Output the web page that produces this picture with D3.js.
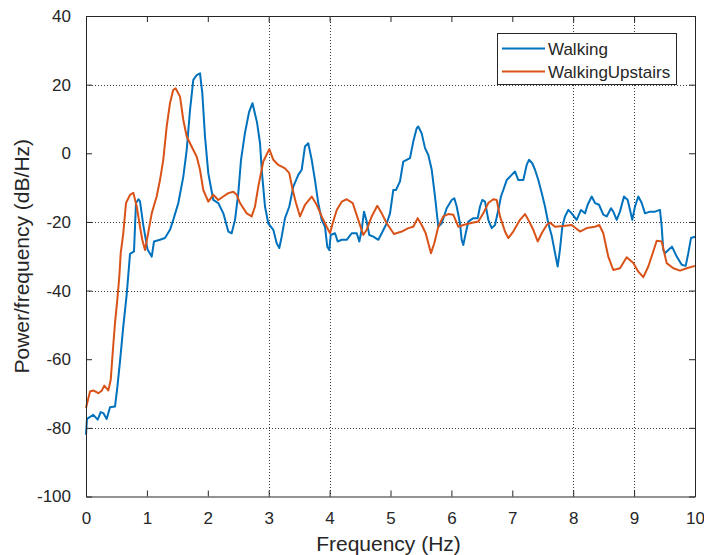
<!DOCTYPE html>
<html>
<head>
<meta charset="utf-8">
<script src="https://cdn.jsdelivr.net/npm/d3@7"></script>
<style>
  html, body { margin: 0; padding: 0; background: #fff; }
  svg { display: block; font-family: "Liberation Sans", Arial, sans-serif; }
</style>
</head>
<body>
<svg id="chart" width="704" height="555"></svg>
<script>
// Welch power spectral density estimates for two activities
const walkingFreq = [0.000,0.016,0.120,0.192,0.241,0.284,0.340,0.394,0.476,0.514,0.558,0.612,0.668,0.723,0.788,0.821,0.862,0.887,0.941,1.010,1.079,1.117,1.215,1.297,1.379,1.433,1.516,1.598,1.654,1.708,1.762,1.818,1.872,1.910,1.954,2.008,2.090,2.172,2.255,2.337,2.392,2.447,2.501,2.545,2.611,2.677,2.734,2.808,2.857,2.890,2.939,2.993,3.076,3.131,3.174,3.213,3.268,3.338,3.404,3.486,3.542,3.596,3.650,3.706,3.760,3.814,3.870,3.924,3.962,3.995,4.018,4.089,4.133,4.199,4.281,4.363,4.445,4.488,4.527,4.565,4.609,4.652,4.718,4.800,4.856,4.938,4.992,5.046,5.090,5.156,5.210,5.320,5.374,5.430,5.456,5.512,5.567,5.621,5.677,5.731,5.785,5.841,5.923,6.005,6.048,6.087,6.141,6.169,6.195,6.235,6.278,6.360,6.432,6.470,6.507,6.552,6.606,6.662,6.716,6.770,6.814,6.852,6.908,6.990,7.044,7.099,7.181,7.236,7.274,7.328,7.373,7.427,7.483,7.537,7.591,7.647,7.701,7.745,7.783,7.821,7.865,7.920,7.975,8.057,8.128,8.194,8.238,8.304,8.358,8.424,8.494,8.550,8.621,8.658,8.714,8.768,8.834,8.895,8.933,8.970,9.015,9.069,9.125,9.179,9.261,9.343,9.425,9.453,9.479,9.507,9.562,9.622,9.700,9.782,9.847,9.890,9.934,10.000];
const walkingPsd = [-82.0,-77.4,-76.2,-77.6,-75.4,-75.7,-77.4,-74.0,-73.8,-68.3,-60.7,-50.5,-41.2,-29.3,-28.6,-14.5,-13.4,-14.0,-21.0,-28.0,-30.1,-25.7,-25.2,-24.7,-22.3,-19.4,-14.5,-6.8,1.0,12.6,21.4,22.8,23.3,17.5,4.9,-5.8,-13.6,-14.5,-17.5,-22.8,-23.3,-19.4,-11.6,-2.0,6.0,12.0,14.6,9.0,3.0,-5.8,-15.5,-20.4,-22.3,-26.2,-27.6,-24.3,-18.9,-15.5,-9.7,-6.3,-4.8,2.0,2.9,-1.9,-7.8,-14.5,-19.4,-21.4,-27.2,-28.2,-23.8,-23.3,-25.7,-25.2,-25.2,-23.3,-23.3,-25.7,-22.3,-17.0,-19.9,-23.8,-24.3,-25.2,-23.3,-20.4,-17.5,-10.7,-10.7,-8.2,-2.4,-1.4,3.4,7.3,7.8,5.8,1.5,-0.5,-4.8,-12.6,-21.4,-20.4,-16.0,-13.6,-13.1,-15.5,-20.4,-25.2,-26.7,-23.3,-19.9,-18.9,-18.9,-15.5,-13.6,-14.1,-19.4,-21.8,-20.9,-16.5,-12.6,-10.7,-7.8,-6.3,-5.3,-7.8,-7.8,-3.4,-1.9,-2.9,-4.8,-7.8,-11.6,-15.5,-20.4,-24.0,-29.0,-33.0,-28.0,-21.4,-18.4,-16.5,-17.5,-19.4,-16.5,-17.5,-15.0,-12.6,-14.5,-15.0,-17.9,-18.4,-16.0,-17.0,-19.4,-17.0,-12.6,-13.6,-16.5,-19.4,-15.5,-12.6,-14.5,-17.5,-17.0,-17.0,-16.5,-21.4,-28.2,-29.1,-28.2,-27.2,-30.1,-32.5,-32.8,-29.1,-24.7,-24.3];

const upstairsFreq = [0.000,0.066,0.120,0.202,0.258,0.300,0.366,0.406,0.438,0.476,0.514,0.547,0.570,0.612,0.657,0.723,0.777,0.833,0.887,0.924,0.969,1.023,1.079,1.161,1.215,1.269,1.325,1.379,1.433,1.473,1.544,1.598,1.654,1.736,1.818,1.872,1.926,2.008,2.090,2.172,2.255,2.337,2.419,2.475,2.529,2.639,2.721,2.775,2.829,2.911,3.010,3.076,3.158,3.268,3.338,3.394,3.448,3.514,3.596,3.706,3.788,3.870,3.952,4.007,4.051,4.117,4.199,4.281,4.379,4.471,4.553,4.609,4.691,4.783,4.856,4.938,5.057,5.184,5.292,5.374,5.447,5.512,5.578,5.621,5.665,5.719,5.785,5.867,5.949,6.031,6.113,6.195,6.305,6.442,6.524,6.606,6.688,6.744,6.798,6.880,6.934,7.016,7.126,7.209,7.263,7.345,7.417,7.483,7.565,7.619,7.701,7.837,7.975,8.112,8.222,8.358,8.429,8.494,8.576,8.658,8.768,8.878,8.987,9.069,9.151,9.233,9.315,9.371,9.453,9.535,9.644,9.754,9.865,10.000];
const upstairsPsd = [-74.2,-69.4,-69.1,-69.9,-69.2,-67.7,-69.1,-66.0,-58.2,-49.5,-42.7,-35.9,-29.1,-23.3,-14.5,-12.1,-11.5,-15.5,-21.4,-25.2,-28.2,-23.0,-17.5,-12.5,-7.8,-1.9,7.8,14.6,18.5,18.9,16.5,9.7,4.9,1.9,-1.0,-4.8,-10.7,-14.1,-12.1,-13.6,-12.6,-11.6,-11.2,-12.1,-14.5,-17.5,-18.4,-15.5,-9.7,-2.4,1.2,-1.9,-3.4,-4.4,-5.8,-10.7,-14.5,-18.4,-15.0,-12.6,-15.0,-18.4,-21.4,-23.3,-20.4,-16.5,-14.1,-13.4,-14.5,-19.4,-23.8,-22.3,-18.4,-15.3,-17.5,-20.4,-23.5,-22.8,-21.8,-21.4,-18.9,-20.9,-23.3,-26.2,-29.1,-26.2,-21.4,-18.4,-17.7,-17.9,-21.4,-20.9,-20.4,-19.9,-17.5,-14.5,-13.4,-13.6,-18.4,-22.8,-24.7,-22.8,-19.4,-17.7,-19.4,-22.3,-25.7,-23.3,-20.9,-20.2,-21.4,-21.2,-20.9,-22.8,-21.8,-21.4,-20.9,-23.3,-30.1,-34.0,-33.5,-30.3,-32.0,-34.5,-36.1,-33.0,-28.6,-25.5,-25.7,-32.0,-33.5,-34.2,-33.5,-32.8];

const xTicks = [0,1,2,3,4,5,6,7,8,9,10];
const yTicks = [40,20,0,-20,-40,-60,-80,-100];
const xGrid = [3,4,8,9];
const yGrid = [20,-20,-40,-80];
const seriesNames = ["Walking","WalkingUpstairs"];
const seriesColors = ["#0072BD","#D95319"];

const svg = d3.select("#chart");
const plotLeft = 86, plotRight = 695, plotTop = 16, plotBottom = 496.5;
const ink = "#262626";

const x = d3.scaleLinear().domain([0,10]).range([plotLeft,plotRight]);
const y = d3.scaleLinear().domain([-100,40]).range([plotBottom,plotTop]);

// dotted grid lines
const grid = svg.append("g").attr("stroke","#3a3a3a").attr("stroke-width",1).attr("stroke-dasharray","1,2");
grid.selectAll(".gx").data(xGrid).join("line")
  .attr("x1",d=>Math.round(x(d))+0.5).attr("x2",d=>Math.round(x(d))+0.5)
  .attr("y1",plotTop).attr("y2",plotBottom);
grid.selectAll(".gy").data(yGrid).join("line")
  .attr("y1",d=>Math.round(y(d))+0.5).attr("y2",d=>Math.round(y(d))+0.5)
  .attr("x1",plotLeft).attr("x2",plotRight);

// spectra
const walking = walkingFreq.map((f,i)=>[f,walkingPsd[i]]);
const upstairs = upstairsFreq.map((f,i)=>[f,upstairsPsd[i]]);
const line = d3.line().x(d=>x(d[0])).y(d=>y(d[1]));
[walking, upstairs].forEach((s,i)=>{
  svg.append("path").datum(s)
    .attr("d",line).attr("fill","none")
    .attr("stroke",seriesColors[i]).attr("stroke-width",2)
    .attr("stroke-linejoin","round");
});

// axes with inward ticks on all four sides
const tickLen = 6;
const axB = svg.append("g").attr("transform",`translate(0,${plotBottom})`)
  .call(d3.axisBottom(x).tickValues(xTicks).tickSizeInner(-tickLen).tickSizeOuter(0).tickPadding(tickLen+9).tickFormat(d3.format("d")));
const axT = svg.append("g").attr("transform",`translate(0,${plotTop})`)
  .call(d3.axisTop(x).tickValues(xTicks).tickSizeInner(-tickLen).tickSizeOuter(0).tickFormat(""));
const axL = svg.append("g").attr("transform",`translate(${plotLeft},0)`)
  .call(d3.axisLeft(y).tickValues(yTicks).tickSizeInner(-tickLen).tickSizeOuter(0).tickPadding(tickLen+9).tickFormat(d=>String(d)));
const axR = svg.append("g").attr("transform",`translate(${plotRight},0)`)
  .call(d3.axisRight(y).tickValues(yTicks).tickSizeInner(-tickLen).tickSizeOuter(0).tickFormat(""));
[axB,axT,axL,axR].forEach(a=>{
  a.selectAll("path.domain").attr("stroke",ink).attr("stroke-width",1);
  a.selectAll(".tick line").attr("stroke",ink);
  a.selectAll("text").attr("fill",ink).attr("font-size","17px")
    .attr("font-family","'Liberation Sans', Arial, sans-serif");
});

// axis titles
svg.append("text").attr("x",(plotLeft+plotRight)/2 - 2).attr("y",551)
  .attr("text-anchor","middle").attr("fill",ink).attr("font-size","21px")
  .text("Frequency (Hz)");
svg.append("text").attr("transform",`translate(29,${(plotTop+plotBottom)/2}) rotate(-90)`)
  .attr("text-anchor","middle").attr("fill",ink).attr("font-size","21px")
  .text("Power/frequency (dB/Hz)");

// legend
const lg = svg.append("g");
lg.append("rect").attr("x",497.5).attr("y",33.5).attr("width",179).attr("height",51)
  .attr("fill","#fff").attr("stroke",ink).attr("stroke-width",1);
seriesNames.forEach((name,i)=>{
  const ly = 48.5 + i*23;
  lg.append("line").attr("x1",502).attr("x2",545).attr("y1",ly).attr("y2",ly)
    .attr("stroke",seriesColors[i]).attr("stroke-width",2);
  lg.append("text").attr("x",548).attr("y",ly+6).attr("fill",ink)
    .attr("font-size","17px").text(name);
});
</script>
</body>
</html>
